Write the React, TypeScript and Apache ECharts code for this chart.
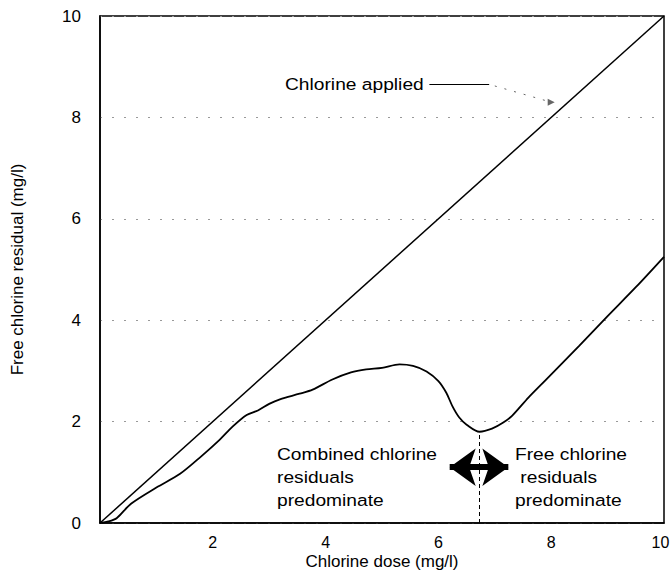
import React, { useEffect, useRef } from "react";
import * as echarts from "echarts";

const appliedLine: [number, number][] = [
  [0, 0],
  [10, 10],
];

const residualCurve: [number, number][] = [
  [0, 0], [0.15, 0.03], [0.3, 0.1], [0.55, 0.38], [1.0, 0.7], [1.42, 0.97],
  [1.8, 1.32], [2.12, 1.64], [2.35, 1.9], [2.6, 2.13], [2.8, 2.22],
  [3.0, 2.35], [3.19, 2.44], [3.54, 2.55], [3.77, 2.63], [4.12, 2.83],
  [4.45, 2.97], [4.72, 3.03], [5.0, 3.06], [5.31, 3.13], [5.55, 3.1],
  [5.79, 2.99], [6.0, 2.8], [6.14, 2.57], [6.25, 2.3], [6.37, 2.08],
  [6.5, 1.94], [6.73, 1.8], [6.95, 1.86], [7.15, 1.98], [7.31, 2.12],
  [7.6, 2.48], [7.91, 2.83], [8.5, 3.5], [9.0, 4.08], [9.5, 4.65], [10, 5.25],
];

const breakpointX = 6.73;
const breakpointY = 1.8;
const arrowY = 1.1;
const arrowFrom = 6.2;
const arrowTo = 7.24;

const appliedPointerSolid: [number, number][] = [[5.84, 8.66], [6.9, 8.66]];
const appliedPointerDotted: [number, number][] = [[7.0, 8.62], [8.0, 8.3]];

const xTicks = [0, 2, 4, 6, 8, 10];
const yTicks = [0, 2, 4, 6, 8, 10];

const FONT = "'Liberation Sans', Arial, Helvetica, sans-serif";

export default function App() {
  const ref = useRef<HTMLDivElement>(null);
  useEffect(() => {
    if (!ref.current) return;
    const chart = echarts.init(ref.current, undefined, { renderer: "svg" });
    chart.setOption({
      animation: false,
      backgroundColor: "#fff",
      textStyle: { fontFamily: FONT },
      grid: {
        left: 100,
        right: 7,
        top: 16,
        bottom: 49,
        containLabel: false,
        outerBoundsMode: "none",
        show: true,
        borderColor: "#000",
        borderWidth: 1.5,
      },
      xAxis: {
        type: "value",
        min: 0,
        max: 10,
        interval: 2,
        name: "Chlorine dose (mg/l)",
        nameLocation: "middle",
        nameGap: 29,
        nameMoveOverlap: false,
        nameTextStyle: { fontSize: 17, color: "#000", fontFamily: FONT, lineHeight: 18 },
        axisLine: { show: true, lineStyle: { color: "#000", width: 1.5 } },
        axisTick: { show: false },
        splitLine: { show: false },
        axisLabel: {
          fontSize: 16,
          lineHeight: 17,
          color: "#000",
          margin: 11,
          fontFamily: FONT,
          formatter: (v: number) => {
            if (v === 0 || !xTicks.includes(v)) return "";
            if (v === 10) return "{r|10}";
            return String(v);
          },
          rich: {
            r: { fontSize: 16, lineHeight: 17, color: "#000", fontFamily: FONT, padding: [0, 7, 0, 0] },
          },
        },
      },
      yAxis: {
        type: "value",
        min: 0,
        max: 10,
        interval: 2,
        name: "Free chlorine residual (mg/l)",
        nameLocation: "middle",
        nameGap: 74,
        nameMoveOverlap: false,
        nameTextStyle: { fontSize: 17, color: "#000", fontFamily: FONT },
        axisLine: { show: true, lineStyle: { color: "#000", width: 1.5 } },
        axisTick: { show: false },
        splitLine: {
          show: true,
          lineStyle: { color: "#999", type: [2, 10], width: 1 },
        },
        axisLabel: {
          fontSize: 17,
          color: "#000",
          margin: 19,
          fontFamily: FONT,
          formatter: (v: number) => (yTicks.includes(v) ? String(v) : ""),
        },
      },
      series: [
        {
          type: "line",
          name: "Chlorine applied",
          data: appliedLine,
          symbol: "none",
          lineStyle: { color: "#000", width: 1.5 },
          markLine: {
            silent: true,
            symbol: ["none", "none"],
            label: { show: false },
            data: [
              [
                { coord: appliedPointerSolid[0], lineStyle: { color: "#000", width: 1, type: "solid" } },
                { coord: appliedPointerSolid[1] },
              ],
              [
                {
                  coord: appliedPointerDotted[0],
                  symbol: "none",
                  lineStyle: { color: "#666", width: 1, type: [2, 8] },
                },
                { coord: appliedPointerDotted[1], symbol: "triangle", symbolSize: 7, symbolRotate: -90 },
              ],
            ],
          },
        },
        {
          type: "line",
          name: "Residual",
          data: residualCurve,
          symbol: "none",
          smooth: 0.3,
          lineStyle: { color: "#000", width: 1.8 },
          markLine: {
            silent: true,
            label: { show: false },
            data: [
              [
                {
                  coord: [breakpointX, 0],
                  symbol: "none",
                  lineStyle: { color: "#000", width: 1, type: [4, 3] },
                },
                { coord: [breakpointX, breakpointY], symbol: "none" },
              ],
              [
                {
                  coord: [arrowFrom, arrowY],
                  symbol: "arrow",
                  symbolSize: [28, 26],
                  lineStyle: { color: "#000", width: 6, type: "solid" },
                },
                { coord: [arrowTo, arrowY], symbol: "arrow", symbolSize: [28, 26] },
              ],
            ],
          },
        },
      ],
      graphic: [
        {
          type: "text",
          x: 285,
          y: 84,
          scaleX: 1.13,
          style: {
            text: "Chlorine applied",
            font: `17px ${FONT}`,
            fill: "#000",
            verticalAlign: "middle",
          },
        },
        {
          type: "text",
          x: 277,
          y: 443,
          scaleX: 1.13,
          style: {
            text: "Combined chlorine\nresiduals\npredominate",
            font: `17px ${FONT}`,
            lineHeight: 23,
            fill: "#000",
            verticalAlign: "top",
          },
        },
        {
          type: "text",
          x: 515,
          y: 443,
          scaleX: 1.13,
          style: {
            text: "Free chlorine\n residuals\npredominate",
            font: `17px ${FONT}`,
            lineHeight: 23,
            fill: "#000",
            verticalAlign: "top",
          },
        },
      ],
    });
    return () => chart.dispose();
  }, []);
  return (
    <div
      ref={ref}
      style={{ position: "fixed", left: 0, top: 0, width: 671, height: 572, background: "#fff" }}
    />
  );
}
